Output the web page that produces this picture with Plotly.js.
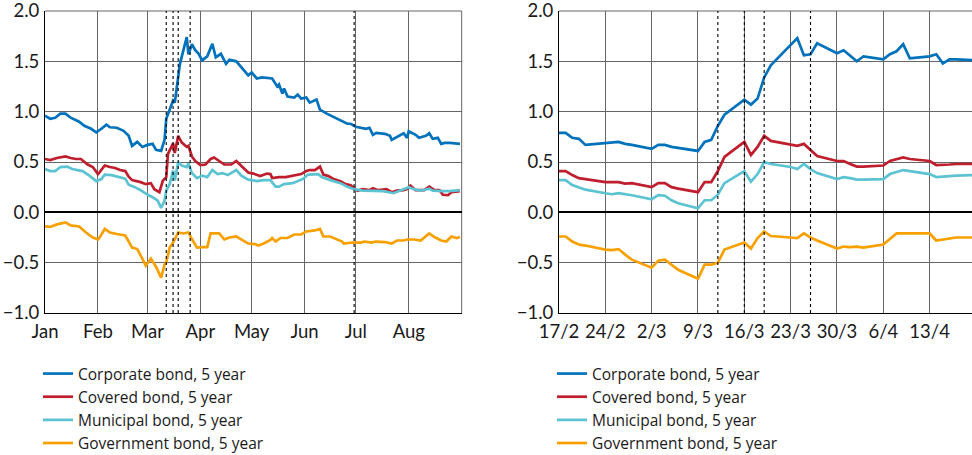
<!DOCTYPE html>
<html>
<head>
<meta charset="utf-8">
<script src="https://cdn.plot.ly/plotly-3.0.1.min.js"></script>
<style>
  html, body { margin: 0; padding: 0; background: #ffffff; }
  #chart { width: 972px; height: 455px; }
</style>
</head>
<body>
<div id="chart"></div>
<script>
// ---------- Series names ----------
const seriesNames = ['Corporate bond, 5 year', 'Covered bond, 5 year', 'Municipal bond, 5 year', 'Government bond, 5 year'];

// ---------- Y axis ticks (shared) ----------
const yTickVals = [-1, -0.5, 0, 0.5, 1, 1.5, 2];
const yRange = [-1, 2];

// ---------- Left panel (Jan - Aug) ----------
const leftMonthTicks = ['2020-01-01','2020-02-01','2020-03-01','2020-04-01','2020-05-01','2020-06-01','2020-07-01','2020-08-01'];
const leftMonthLabels = ['Jan','Feb','Mar','Apr','May','Jun','Jul','Aug'];
const leftRangeEnd = '2020-09-01';

const leftCorpDates = ['2020-01-01','2020-01-04','2020-01-07','2020-01-10','2020-01-13','2020-01-16','2020-01-21','2020-01-24','2020-01-28','2020-01-31',
  '2020-02-03','2020-02-06','2020-02-08','2020-02-12','2020-02-16','2020-02-19','2020-02-21','2020-02-24','2020-02-27',
  '2020-03-01','2020-03-04','2020-03-06','2020-03-09','2020-03-11','2020-03-12','2020-03-14','2020-03-16','2020-03-17','2020-03-18','2020-03-20','2020-03-24','2020-03-25','2020-03-27','2020-03-29','2020-03-31',
  '2020-04-02','2020-04-05','2020-04-08','2020-04-10','2020-04-13','2020-04-16','2020-04-18','2020-04-22','2020-04-26','2020-04-29',
  '2020-05-01','2020-05-04','2020-05-07','2020-05-13','2020-05-16','2020-05-17','2020-05-19','2020-05-20','2020-05-22','2020-05-26','2020-05-28','2020-05-30',
  '2020-06-02','2020-06-04','2020-06-08','2020-06-10','2020-06-14','2020-06-20','2020-06-23','2020-06-26','2020-06-28',
  '2020-07-01','2020-07-07','2020-07-09','2020-07-11','2020-07-13','2020-07-18','2020-07-21','2020-07-22','2020-07-26','2020-07-29','2020-07-31',
  '2020-08-01','2020-08-05','2020-08-07','2020-08-11','2020-08-13','2020-08-15','2020-08-18','2020-08-20','2020-08-22','2020-08-25','2020-08-28','2020-08-31'];
const leftCorpVals = [0.96,0.93,0.94,0.98,0.98,0.94,0.90,0.86,0.83,0.795,
  0.83,0.87,0.845,0.84,0.81,0.76,0.66,0.70,0.65,
  0.67,0.68,0.62,0.61,0.72,0.93,1.03,1.11,1.09,1.24,1.475,1.74,1.57,1.67,1.61,1.575,
  1.51,1.55,1.675,1.54,1.575,1.475,1.515,1.50,1.425,1.36,
  1.39,1.33,1.34,1.33,1.25,1.27,1.18,1.23,1.15,1.14,1.17,1.13,
  1.14,1.09,1.12,1.02,0.98,0.93,0.91,0.88,0.88,
  0.85,0.83,0.84,0.77,0.79,0.78,0.76,0.72,0.76,0.785,0.74,
  0.805,0.77,0.74,0.76,0.785,0.73,0.74,0.68,0.69,0.69,0.685,0.68];

const leftCovDates = ['2020-01-01','2020-01-04','2020-01-08','2020-01-13','2020-01-16','2020-01-19','2020-01-22','2020-01-26','2020-01-29',
  '2020-02-01','2020-02-02','2020-02-05','2020-02-08','2020-02-11','2020-02-14','2020-02-17','2020-02-19','2020-02-21','2020-02-26','2020-02-29',
  '2020-03-03','2020-03-05','2020-03-08','2020-03-10','2020-03-12','2020-03-13','2020-03-16','2020-03-17','2020-03-19','2020-03-21','2020-03-24','2020-03-25','2020-03-27','2020-03-29',
  '2020-04-01','2020-04-04','2020-04-07','2020-04-09','2020-04-12','2020-04-15','2020-04-19','2020-04-22','2020-04-25','2020-04-29',
  '2020-05-02','2020-05-06','2020-05-10','2020-05-12','2020-05-13','2020-05-17','2020-05-21','2020-05-26','2020-05-30',
  '2020-06-02','2020-06-04','2020-06-07','2020-06-10','2020-06-12','2020-06-15','2020-06-18','2020-06-22','2020-06-25','2020-06-28',
  '2020-07-02','2020-07-05','2020-07-09','2020-07-11','2020-07-14','2020-07-19','2020-07-22','2020-07-25','2020-07-29','2020-07-31',
  '2020-08-02','2020-08-05','2020-08-10','2020-08-13','2020-08-16','2020-08-19','2020-08-21','2020-08-24','2020-08-26','2020-08-31'];
const leftCovVals = [0.53,0.52,0.54,0.555,0.54,0.53,0.53,0.475,0.45,
  0.38,0.40,0.465,0.45,0.44,0.42,0.41,0.355,0.32,0.30,0.28,
  0.29,0.23,0.20,0.315,0.35,0.58,0.685,0.59,0.76,0.695,0.65,0.66,0.555,0.51,
  0.47,0.475,0.53,0.545,0.51,0.475,0.475,0.51,0.46,0.395,
  0.385,0.36,0.385,0.38,0.34,0.35,0.35,0.365,0.38,
  0.41,0.42,0.42,0.455,0.375,0.36,0.33,0.31,0.28,0.27,
  0.215,0.23,0.22,0.24,0.22,0.23,0.20,0.215,0.22,0.23,
  0.265,0.22,0.22,0.255,0.22,0.22,0.175,0.17,0.20,0.21];

const leftMunDates = ['2020-01-01','2020-01-04','2020-01-07','2020-01-10','2020-01-14','2020-01-17','2020-01-20','2020-01-23','2020-01-27','2020-01-31',
  '2020-02-03','2020-02-05','2020-02-09','2020-02-13','2020-02-17','2020-02-19','2020-02-22','2020-02-26','2020-02-29',
  '2020-03-04','2020-03-07','2020-03-09','2020-03-11','2020-03-12','2020-03-14','2020-03-16','2020-03-17','2020-03-19','2020-03-21','2020-03-24','2020-03-25','2020-03-27','2020-03-30',
  '2020-04-02','2020-04-05','2020-04-08','2020-04-11','2020-04-14','2020-04-17','2020-04-22','2020-04-25','2020-04-29',
  '2020-05-04','2020-05-08','2020-05-12','2020-05-15','2020-05-17','2020-05-20','2020-05-25','2020-05-31',
  '2020-06-03','2020-06-09','2020-06-11','2020-06-16','2020-06-22','2020-06-26','2020-06-30',
  '2020-07-05','2020-07-11','2020-07-17','2020-07-23','2020-07-27',
  '2020-08-01','2020-08-04','2020-08-08','2020-08-13','2020-08-15','2020-08-21','2020-08-25','2020-08-31'];
const leftMunVals = [0.43,0.41,0.41,0.45,0.455,0.43,0.42,0.41,0.365,0.31,
  0.33,0.375,0.37,0.35,0.335,0.275,0.255,0.22,0.185,
  0.15,0.115,0.045,0.115,0.215,0.28,0.415,0.315,0.50,0.465,0.45,0.485,0.39,0.34,
  0.365,0.35,0.42,0.38,0.39,0.37,0.42,0.365,0.325,
  0.31,0.32,0.32,0.255,0.255,0.28,0.29,0.33,
  0.375,0.38,0.35,0.32,0.29,0.255,0.23,
  0.215,0.215,0.21,0.19,0.215,
  0.25,0.23,0.215,0.235,0.215,0.21,0.21,0.22];

const leftGovDates = ['2020-01-01','2020-01-04','2020-01-08','2020-01-13','2020-01-16','2020-01-21','2020-01-25','2020-01-29',
  '2020-02-01','2020-02-02','2020-02-05','2020-02-08','2020-02-12','2020-02-17','2020-02-21','2020-02-24','2020-02-27','2020-02-29',
  '2020-03-03','2020-03-06','2020-03-09','2020-03-11','2020-03-12','2020-03-14','2020-03-16','2020-03-19','2020-03-22','2020-03-25','2020-03-27','2020-03-30',
  '2020-04-02','2020-04-05','2020-04-07','2020-04-12','2020-04-15','2020-04-18','2020-04-22','2020-04-26','2020-04-29',
  '2020-05-03','2020-05-05','2020-05-08','2020-05-12','2020-05-13','2020-05-15','2020-05-18','2020-05-22','2020-05-26','2020-05-30',
  '2020-06-02','2020-06-07','2020-06-10','2020-06-12','2020-06-16','2020-06-20','2020-06-23','2020-06-24','2020-06-29',
  '2020-07-04','2020-07-06','2020-07-10','2020-07-13','2020-07-18','2020-07-22','2020-07-25','2020-07-29','2020-07-31',
  '2020-08-04','2020-08-08','2020-08-13','2020-08-16','2020-08-20','2020-08-23','2020-08-26','2020-08-29','2020-08-31'];
const leftGovVals = [-0.14,-0.145,-0.12,-0.10,-0.13,-0.14,-0.20,-0.25,
  -0.27,-0.25,-0.165,-0.20,-0.215,-0.23,-0.35,-0.365,-0.46,-0.53,
  -0.46,-0.54,-0.65,-0.52,-0.50,-0.35,-0.30,-0.20,-0.21,-0.20,-0.265,-0.35,
  -0.345,-0.345,-0.21,-0.21,-0.27,-0.25,-0.24,-0.28,-0.31,
  -0.315,-0.33,-0.31,-0.275,-0.255,-0.29,-0.255,-0.255,-0.22,-0.22,
  -0.19,-0.18,-0.165,-0.24,-0.24,-0.265,-0.29,-0.31,-0.30,
  -0.30,-0.29,-0.30,-0.29,-0.295,-0.31,-0.28,-0.28,-0.27,
  -0.27,-0.28,-0.21,-0.245,-0.28,-0.29,-0.24,-0.255,-0.245];

const leftEventDates = ['2020-03-12','2020-03-16','2020-03-19','2020-03-26','2020-06-30'];

// ---------- Right panel (17/2 - 20/4) ----------
const rightDates = ['2020-02-17','2020-02-18','2020-02-19','2020-02-20','2020-02-21','2020-02-24','2020-02-25','2020-02-26','2020-02-27','2020-02-28',
  '2020-03-02','2020-03-03','2020-03-04','2020-03-05','2020-03-06','2020-03-09','2020-03-10','2020-03-11','2020-03-12','2020-03-13',
  '2020-03-16','2020-03-17','2020-03-18','2020-03-19','2020-03-20','2020-03-23','2020-03-24','2020-03-25','2020-03-26','2020-03-27',
  '2020-03-30','2020-03-31','2020-04-01','2020-04-02','2020-04-03','2020-04-06','2020-04-07','2020-04-08','2020-04-09','2020-04-10',
  '2020-04-13','2020-04-14','2020-04-15','2020-04-16','2020-04-17','2020-04-20'];
const rightCorpVals = [0.79,0.79,0.74,0.73,0.67, 0.69,0.69,0.70,0.68,0.67,
  0.63,0.67,0.67,0.65,0.64, 0.61,0.70,0.72,0.86,0.97,
  1.12,1.07,1.13,1.34,1.46, 1.67,1.73,1.56,1.57,1.68,
  1.58,1.61,1.55,1.50,1.55, 1.52,1.57,1.60,1.67,1.53,
  1.55,1.57,1.48,1.52,1.52, 1.51];
const rightCovVals = [0.41,0.41,0.37,0.34,0.33, 0.30,0.30,0.30,0.285,0.29,
  0.25,0.29,0.29,0.25,0.235, 0.20,0.30,0.30,0.41,0.55,
  0.70,0.57,0.65,0.76,0.71, 0.67,0.66,0.68,0.62,0.56,
  0.51,0.51,0.48,0.455,0.455, 0.465,0.51,0.53,0.545,0.53,
  0.51,0.47,0.47,0.475,0.48, 0.48];
const rightMunVals = [0.32,0.32,0.27,0.25,0.225, 0.19,0.18,0.19,0.18,0.17,
  0.13,0.17,0.165,0.12,0.09, 0.04,0.12,0.12,0.175,0.29,
  0.41,0.305,0.38,0.50,0.48, 0.45,0.43,0.48,0.43,0.39,
  0.33,0.35,0.34,0.325,0.325, 0.33,0.38,0.40,0.42,0.41,
  0.38,0.35,0.355,0.36,0.365, 0.37];
const rightGovVals = [-0.24,-0.24,-0.29,-0.32,-0.33, -0.37,-0.375,-0.365,-0.42,-0.47,
  -0.55,-0.48,-0.47,-0.52,-0.57, -0.66,-0.52,-0.52,-0.50,-0.37,
  -0.30,-0.36,-0.255,-0.19,-0.235, -0.25,-0.255,-0.21,-0.25,-0.28,
  -0.36,-0.34,-0.345,-0.34,-0.35, -0.32,-0.26,-0.21,-0.21,-0.21,
  -0.21,-0.28,-0.27,-0.255,-0.25, -0.25];
const rightEventDates = ['2020-03-12','2020-03-16','2020-03-19','2020-03-26'];
const rightRange = ['2020-02-17', '2020-04-19 09:36'];

// ---------- Styling ----------
const colors = ['#0072BC', '#BE1E2D', '#5CC3D2', '#F7A000'];
const FONT = 'Lato, "Open Sans", sans-serif';
const LEG_FONT = '"Open Sans", Lato, sans-serif';
const TXT = '#1a1a1a';
const GRID = '#666666';
const LW = 2.7;

const leftData = [[leftCorpDates, leftCorpVals], [leftCovDates, leftCovVals], [leftMunDates, leftMunVals], [leftGovDates, leftGovVals]];
const rightData = [rightCorpVals, rightCovVals, rightMunVals, rightGovVals];

const traces = [];
leftData.forEach((d, i) => {
  traces.push({
    x: d[0], y: d[1], type: 'scatter', mode: 'lines', name: seriesNames[i],
    line: {color: colors[i], width: LW}, xaxis: 'x', yaxis: 'y', legend: 'legend',
    hoverinfo: 'skip'
  });
});
rightData.forEach((v, i) => {
  traces.push({
    x: rightDates, y: v, type: 'scatter', mode: 'lines', name: seriesNames[i],
    line: {color: colors[i], width: LW}, xaxis: 'x2', yaxis: 'y2', legend: 'legend2',
    hoverinfo: 'skip'
  });
});

const W = 972, H = 455;
const shapes = [];
// frame lines at the panel edges (top grid line of both panels, right edge of left panel)
shapes.push({type: 'line', xref: 'x domain', yref: 'y domain', x0: 1, x1: 1, y0: 0, y1: 1,
  line: {color: GRID, width: 1}, layer: 'below'});
shapes.push({type: 'line', xref: 'x domain', yref: 'y domain', x0: 0, x1: 1, y0: 1, y1: 1,
  line: {color: GRID, width: 1}, layer: 'below'});
shapes.push({type: 'line', xref: 'x2 domain', yref: 'y2 domain', x0: 0, x1: 1, y0: 1, y1: 1,
  line: {color: GRID, width: 1}, layer: 'below'});
leftEventDates.forEach(d => shapes.push({type: 'line', xref: 'x', yref: 'y domain', x0: d, x1: d, y0: 0, y1: 1,
  line: {color: '#000', width: 1.1, dash: '3px,3px'}, layer: 'above'}));
rightEventDates.forEach(d => shapes.push({type: 'line', xref: 'x2', yref: 'y2 domain', x0: d, x1: d, y0: 0, y1: 1,
  line: {color: '#000', width: 1.1, dash: '3px,3px'}, layer: 'above'}));

const yCommon = {
  range: yRange, tickmode: 'array', tickvals: yTickVals, tickformat: '.1f',
  showgrid: true, gridcolor: GRID, gridwidth: 1,
  zeroline: true, zerolinecolor: '#000', zerolinewidth: 2, showline: true, linecolor: '#000', linewidth: 1,
  ticks: '', automargin: false, fixedrange: true, ticklabelstandoff: 1, ticklabeloverflow: 'allow',
  tickfont: {family: FONT, size: 18.5, color: TXT}
};
const xCommon = {
  type: 'date', showgrid: true, gridcolor: GRID, gridwidth: 1, zeroline: false,
  showline: true, linecolor: '#000', linewidth: 1, ticks: '', automargin: false, fixedrange: true,
  ticklabelstandoff: 2, ticklabeloverflow: 'allow',
  tickfont: {family: FONT, size: 18.5, color: TXT}
};

const legendCommon = {
  xref: 'paper', yref: 'container', yanchor: 'top', xanchor: 'left', y: 1 - 357 / H,
  bgcolor: 'rgba(0,0,0,0)', font: {family: LEG_FONT, size: 15.5, color: TXT},
  itemwidth: 30, traceorder: 'normal'
};

const layout = {
  width: W, height: H,
  margin: {l: 0, r: 0, t: 11, b: 142, pad: 0, autoexpand: false},
  paper_bgcolor: '#fff', plot_bgcolor: '#fff',
  showlegend: true,
  xaxis: Object.assign({}, xCommon, {
    domain: [45 / W, 461.7 / W], anchor: 'y',
    range: [leftMonthTicks[0], leftRangeEnd], tickmode: 'array', tickvals: leftMonthTicks, ticktext: leftMonthLabels
  }),
  yaxis: Object.assign({}, yCommon, {domain: [0, 1], anchor: 'x'}),
  xaxis2: Object.assign({}, xCommon, {
    domain: [559 / W, 1], anchor: 'y2',
    range: rightRange, tick0: rightRange[0], dtick: 7 * 86400000, tickformat: '%-d/%-m'
  }),
  yaxis2: Object.assign({}, yCommon, {domain: [0, 1], anchor: 'x2'}),
  legend: Object.assign({}, legendCommon, {x: 38 / W}),
  legend2: Object.assign({}, legendCommon, {x: 552 / W}),
  shapes: shapes
};

Plotly.newPlot('chart', traces, layout, {displayModeBar: false, staticPlot: true});
</script>
</body>
</html>
